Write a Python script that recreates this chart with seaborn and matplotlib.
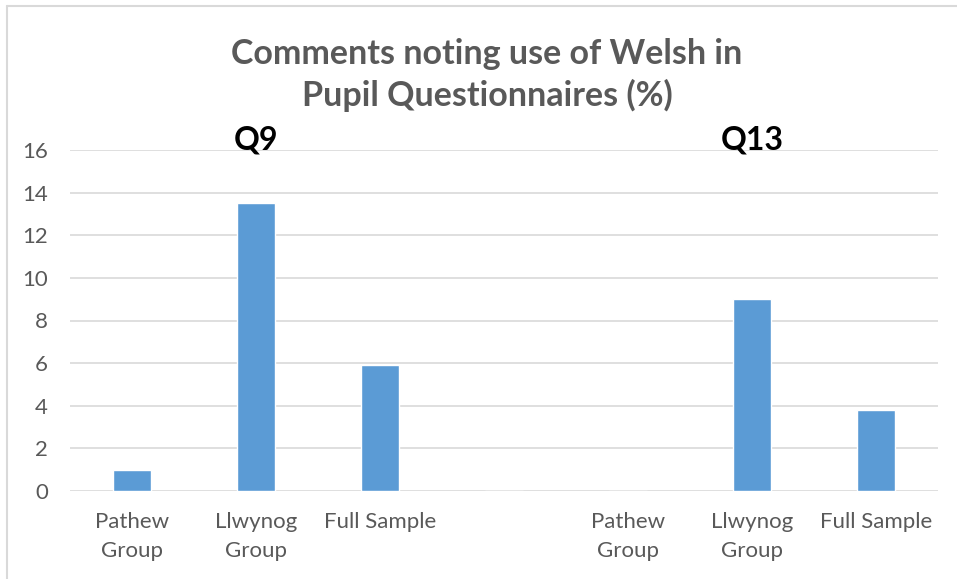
import pandas as pd
import numpy as np
import seaborn as sns
import matplotlib.pyplot as plt
from matplotlib.lines import Line2D

# data
slots = [0, 1, 2, 3, 4, 5, 6]
labels = ['Pathew\nGroup', 'Llwynog\nGroup', 'Full Sample', '', 'Pathew\nGroup', 'Llwynog\nGroup', 'Full Sample']
values = [1.0, 13.5, 5.9, 0.0, 0.0, 9.0, 3.8]
groups = ['Q9', 'Q13']
group_pos = [1, 5]
title = 'Comments noting use of Welsh in\nPupil Questionnaires (%)'

df = pd.DataFrame({'slot': slots, 'value': values})

sns.set_style('white')
plt.rcParams['font.family'] = ['Lato', 'DejaVu Sans']

fig = plt.figure(figsize=(9.57, 5.79), dpi=100)
ax = fig.add_axes([70 / 957, 1 - 491 / 579, 868 / 957, 341 / 579])

sns.barplot(data=df, x='slot', y='value', color='#5B9BD5', saturation=1,
            width=0.31, ax=ax)

ax.set_ylim(0, 16)
ax.set_xlim(-0.5, 6.5)
ax.set_yticks(range(0, 17, 2))
ax.yaxis.grid(True, color='#D9D9D9', linewidth=1.2)
ax.set_axisbelow(True)
for s in ax.spines.values():
    s.set_visible(False)
ax.set_xticks(slots)
ax.set_xticklabels(labels, linespacing=1.6)
ax.tick_params(axis='both', length=0, labelsize=16, labelcolor='#595959')
ax.tick_params(axis='y', pad=16)
ax.tick_params(axis='x', pad=15)
ax.set_xlabel('')
ax.set_ylabel('')

for g, p in zip(groups, group_pos):
    ax.text(p, 16.45, g, ha='center', va='center', fontsize=23,
            fontweight='bold', color='black', clip_on=False)

fig.text(487 / 957, 1 - 75 / 579, title, ha='center', va='center',
         fontsize=24.5, fontweight='bold', color='#595959', linespacing=1.3)

# chart area border (left and top edges visible)
fig.add_artist(Line2D([6.5 / 957, 6.5 / 957], [0, 1 - 5.5 / 579],
                      transform=fig.transFigure, color='#D9D9D9', linewidth=1.5))
fig.add_artist(Line2D([6.5 / 957, 1], [1 - 5.5 / 579, 1 - 5.5 / 579],
                      transform=fig.transFigure, color='#D9D9D9', linewidth=1.5))

fig.savefig('out.png', dpi=100)
